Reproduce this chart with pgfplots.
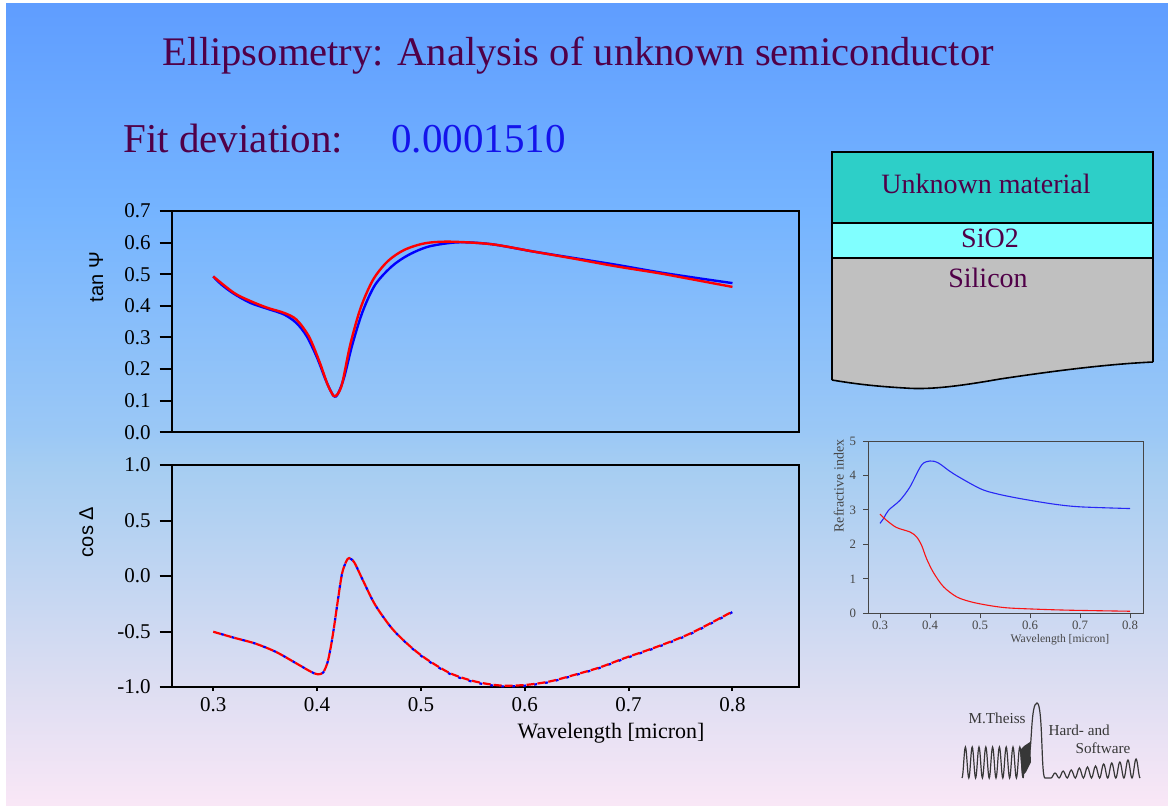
\documentclass[border=0pt]{standalone}
\usepackage{fontspec}
\setmainfont{Liberation Serif}
\newfontfamily\sansf{Liberation Sans}
\usepackage{pgfplots}
\pgfplotsset{compat=1.18}

\definecolor{titlepurple}{RGB}{80,0,72}
\definecolor{bgA}{RGB}{95,157,255}
\definecolor{bgB}{RGB}{117,180,255}
\definecolor{bgC}{RGB}{155,200,246}
\definecolor{bgD}{RGB}{165,205,242}
\definecolor{bgE}{RGB}{222,222,242}
\definecolor{bgF}{RGB}{249,231,246}
\definecolor{fitblue}{RGB}{20,20,235}
\definecolor{unkfill}{RGB}{45,207,200}
\definecolor{sio2fill}{RGB}{128,255,255}
\definecolor{sifill}{RGB}{192,192,192}
\definecolor{curveblue}{RGB}{0,0,255}
\definecolor{curvered}{RGB}{255,0,0}
\definecolor{insetblue}{RGB}{40,40,245}
\definecolor{insetred}{RGB}{250,20,20}
\definecolor{logogray}{RGB}{55,55,55}
\definecolor{insetframe}{RGB}{70,70,70}

% slide background: blue at the top fading to pale lavender
\pgfdeclareverticalshading{slidebg}{100bp}{
  color(0bp)=(bgF); color(25bp)=(bgF); color(32.17bp)=(bgE);
  color(46.2bp)=(bgD); color(48.2bp)=(bgC); color(62bp)=(bgB);
  color(75bp)=(bgA); color(100bp)=(bgA)}

% tan Psi, measured and fitted
\pgfplotstableread{
x y
0.300 0.493
0.308 0.467
0.320 0.438
0.336 0.409
0.352 0.391
0.368 0.373
0.380 0.346
0.390 0.304
0.400 0.236
0.408 0.168
0.414 0.125
0.417 0.113
0.420 0.121
0.426 0.173
0.434 0.278
0.444 0.383
0.456 0.467
0.472 0.525
0.488 0.561
0.508 0.588
0.536 0.601
0.568 0.595
0.608 0.572
0.648 0.551
0.688 0.530
0.728 0.507
0.768 0.487
0.800 0.472
}\tanpsimeas
\pgfplotstableread{
x y
0.300 0.493
0.320 0.441
0.336 0.415
0.352 0.394
0.368 0.378
0.380 0.357
0.392 0.304
0.402 0.226
0.410 0.152
0.414 0.125
0.416 0.115
0.419 0.118
0.424 0.152
0.432 0.278
0.442 0.394
0.454 0.483
0.468 0.541
0.484 0.577
0.504 0.598
0.528 0.603
0.568 0.595
0.608 0.572
0.648 0.549
0.688 0.525
0.728 0.504
0.748 0.492
0.800 0.460
}\tanpsifit

% cos Delta, measured and fitted
\pgfplotstableread{
x y
0.300 -0.502
0.320 -0.556
0.340 -0.607
0.360 -0.682
0.380 -0.787
0.394 -0.862
0.401 -0.888
0.406 -0.868
0.410 -0.780
0.413 -0.650
0.416 -0.480
0.420 -0.220
0.424 0.020
0.428 0.130
0.431 0.160
0.436 0.120
0.444 -0.036
0.456 -0.261
0.472 -0.471
0.488 -0.622
0.504 -0.745
0.528 -0.882
0.552 -0.958
0.576 -0.993
0.600 -0.988
0.624 -0.955
0.648 -0.894
0.672 -0.828
0.696 -0.745
0.728 -0.640
0.760 -0.520
0.800 -0.325
}\cosdelmeas
\pgfplotstableread{
x y
0.300 -0.502
0.320 -0.556
0.340 -0.607
0.360 -0.682
0.380 -0.787
0.394 -0.862
0.401 -0.886
0.406 -0.866
0.410 -0.780
0.413 -0.650
0.416 -0.480
0.420 -0.220
0.424 0.020
0.428 0.130
0.431 0.162
0.436 0.120
0.444 -0.036
0.456 -0.261
0.472 -0.471
0.488 -0.620
0.504 -0.740
0.528 -0.875
0.552 -0.950
0.576 -0.986
0.600 -0.982
0.624 -0.950
0.648 -0.890
0.672 -0.824
0.696 -0.740
0.728 -0.635
0.760 -0.515
0.800 -0.320
}\cosdelfit

% optical constants of the unknown layer
\pgfplotstableread{
x y
0.300 2.61
0.307 2.75
0.317 2.99
0.340 3.28
0.360 3.67
0.383 4.30
0.400 4.42
0.417 4.36
0.447 4.05
0.500 3.62
0.533 3.47
0.580 3.33
0.647 3.17
0.700 3.09
0.800 3.04
}\nreal
\pgfplotstableread{
x y
0.300 2.88
0.313 2.70
0.333 2.49
0.360 2.36
0.373 2.22
0.383 1.98
0.393 1.59
0.407 1.18
0.427 0.77
0.453 0.48
0.480 0.34
0.513 0.24
0.553 0.16
0.613 0.12
0.680 0.09
0.800 0.06
}\kimag

\begin{document}
\begin{tikzpicture}
\begin{scope}[x=0.5pt,y=-0.5pt]
  \path[use as bounding box] (0,0) rectangle (1168,805);
  \fill[white] (0,0) rectangle (1168,805);
  \shade[shading=slidebg] (6,3) rectangle (1168,805);
  \coordinate (topSW) at (171.7,432.3);
  \coordinate (botSW) at (171.7,687);
  \coordinate (insSW) at (868,613.3);
\end{scope}

% upper panel: tan Psi
\begin{axis}[
  at={(topSW)}, anchor=south west, scale only axis,
  width=313.6pt, height=110.65pt,
  xmin=0.26, xmax=0.864, ymin=0, ymax=0.7,
  xtick=\empty,
  ytick={0,0.1,0.2,0.3,0.4,0.5,0.6,0.7},
  yticklabels={0.0,0.1,0.2,0.3,0.4,0.5,0.6,0.7},
  ytick pos=left, tick align=outside, major tick length=6pt,
  axis line style={line width=1pt},
  every tick/.style={black, line width=1pt},
  yticklabel style={font=\fontsize{10.5}{12}\selectfont, xshift=-1pt},
]
\addplot[curveblue, line width=1.2pt, smooth] table {\tanpsimeas};
\addplot[curvered, line width=1.2pt, smooth] table {\tanpsifit};
\end{axis}

% lower panel: cos Delta
\begin{axis}[
  at={(botSW)}, anchor=south west, scale only axis,
  width=313.6pt, height=111pt,
  xmin=0.26, xmax=0.864, ymin=-1, ymax=1,
  xtick={0.3,0.4,0.5,0.6,0.7,0.8},
  xticklabels={0.3,0.4,0.5,0.6,0.7,0.8},
  ytick={-1,-0.5,0,0.5,1},
  yticklabels={-1.0,-0.5,0.0,0.5,1.0},
  ytick pos=left, xtick pos=bottom, tick align=outside, major tick length=6pt,
  xtick style={/pgfplots/major tick length=2pt},
  axis line style={line width=1pt},
  every tick/.style={black, line width=1pt},
  yticklabel style={font=\fontsize{10.5}{12}\selectfont, xshift=-1pt},
  xticklabel style={font=\fontsize{10.5}{12}\selectfont, yshift=4.5pt},
]
\addplot[curveblue, line width=1.1pt, smooth, dash pattern=on 1.5pt off 4pt, dash phase=1.5pt] table {\cosdelmeas};
\addplot[curvered, line width=1.1pt, smooth, dash pattern=on 4pt off 1.5pt] table {\cosdelfit};
\end{axis}

% inset: n and k
\begin{axis}[
  at={(insSW)}, anchor=south west, scale only axis,
  width=137.5pt, height=86.15pt,
  xmin=0.276, xmax=0.826, ymin=0, ymax=5,
  xtick={0.3,0.4,0.5,0.6,0.7,0.8},
  xticklabels={0.3,0.4,0.5,0.6,0.7,0.8},
  ytick={0,1,2,3,4,5},
  yticklabels={0,1,2,3,4,5},
  ytick pos=left, xtick pos=bottom, tick align=outside, major tick length=2.5pt,
  axis line style={insetframe, line width=0.5pt},
  every tick/.style={insetframe, line width=0.5pt},
  ticklabel style={font=\fontsize{6.4}{7.5}\selectfont, text=insetframe},
  xticklabel style={yshift=2pt},
]
\addplot[insetblue, line width=0.55pt, smooth] table {\nreal};
\addplot[insetred, line width=0.55pt, smooth] table {\kimag};
\end{axis}

\begin{scope}[x=0.5pt,y=-0.5pt]
  % headings
  \node[anchor=base, text=titlepurple, inner sep=0pt, font=\fontsize{20.3}{24}\selectfont] at (578.5,65) {Ellipsometry: Analysis of unknown semiconductor};
  \node[anchor=base west, text=titlepurple, inner sep=0pt, font=\fontsize{20.5}{24}\selectfont] at (123,152) {Fit deviation:};
  \node[anchor=base west, text=fitblue, inner sep=0pt, font=\fontsize{20.5}{24}\selectfont] at (391,152) {0.0001510};

  % axis titles of the two panels
  \node[rotate=90, anchor=base, inner sep=0pt, font=\sansf\fontsize{10}{12}\selectfont] at (103,277) {tan Ψ};
  \node[rotate=90, anchor=base, inner sep=0pt, font=\sansf\fontsize{10}{12}\selectfont] at (93,532) {cos Δ};
  \node[anchor=base, inner sep=0pt, font=\fontsize{11}{13}\selectfont] at (611,738) {Wavelength [micron]};

  % inset axis titles
  \node[rotate=90, anchor=base, inner sep=0pt, text=insetframe, font=\fontsize{7}{8}\selectfont] at (843.5,486) {Refractive index};
  \node[anchor=base, inner sep=0pt, text=insetframe, font=\fontsize{5.8}{7}\selectfont] at (1060,642) {Wavelength [micron]};

  % layer stack
  \fill[unkfill] (832,152) rectangle (1153,223);
  \fill[sio2fill] (832,223) rectangle (1153,258);
  \fill[sifill] (832,258) -- (1153,258) -- (1153,362)
     .. controls (1110,364) and (1060,370) .. (1000,379)
     .. controls (960,386) and (930,390) .. (905,388)
     .. controls (870,386) and (850,383) .. (832,380) -- cycle;
  \draw[black, line width=1pt] (832,380) -- (832,152) -- (1153,152) -- (1153,362);
  \draw[black, line width=0.8pt] (1153,362)
     .. controls (1110,364) and (1060,370) .. (1000,379)
     .. controls (960,386) and (930,390) .. (905,388)
     .. controls (870,386) and (850,383) .. (832,380);
  \draw[black, line width=1.3pt] (832,223) -- (1153,223);
  \draw[black, line width=1.3pt] (832,258) -- (1153,258);
  \node[anchor=base, text=titlepurple, inner sep=0pt, font=\fontsize{14}{16}\selectfont] at (986,193) {Unknown material};
  \node[anchor=base, text=titlepurple, inner sep=0pt, font=\fontsize{14}{16}\selectfont] at (990,247) {SiO2};
  \node[anchor=base, text=titlepurple, inner sep=0pt, font=\fontsize{14}{16}\selectfont] at (988,287) {Silicon};

  % logo
  \begin{scope}[logogray, line width=0.6pt]
    \draw (962,778)
      \foreach \i in {0,...,8} {
        cos ({962+6.8*\i+1.7},762.5) sin ({962+6.8*\i+3.4},747)
        cos ({962+6.8*\i+5.1},762.5) sin ({962+6.8*\i+6.8},778)
      };
    \fill (1020,750) -- (1024,746) -- (1030,742) -- (1031,762) -- (1026,772) -- (1022,776) -- cycle;
    \draw (1023.2,778) -- (1026,752) -- (1029,757)
      .. controls (1032,745) and (1031,703) .. (1037,703)
      .. controls (1043,703) and (1041,778) .. (1045,778) -- (1051,778)
      \foreach \i/\a in {0/5,1/7,2/8,3/10,4/11,5/12,6/14,7/15,8/16,9/18,10/19} {
        cos ({1051+8.1*\i+2},{778-\a/2}) sin ({1051+8.1*\i+4.05},{778-\a})
        cos ({1051+8.1*\i+6.1},{778-\a/2}) sin ({1051+8.1*\i+8.1},778)
      };
    \node[anchor=base west, inner sep=0pt, font=\fontsize{7.6}{9}\selectfont] at (968,723) {M.Theiss};
    \node[anchor=base west, inner sep=0pt, font=\fontsize{7.6}{9}\selectfont] at (1048,735) {Hard- and};
    \node[anchor=base west, inner sep=0pt, font=\fontsize{7.6}{9}\selectfont] at (1075,753) {Software};
  \end{scope}
\end{scope}
\end{tikzpicture}
\end{document}
